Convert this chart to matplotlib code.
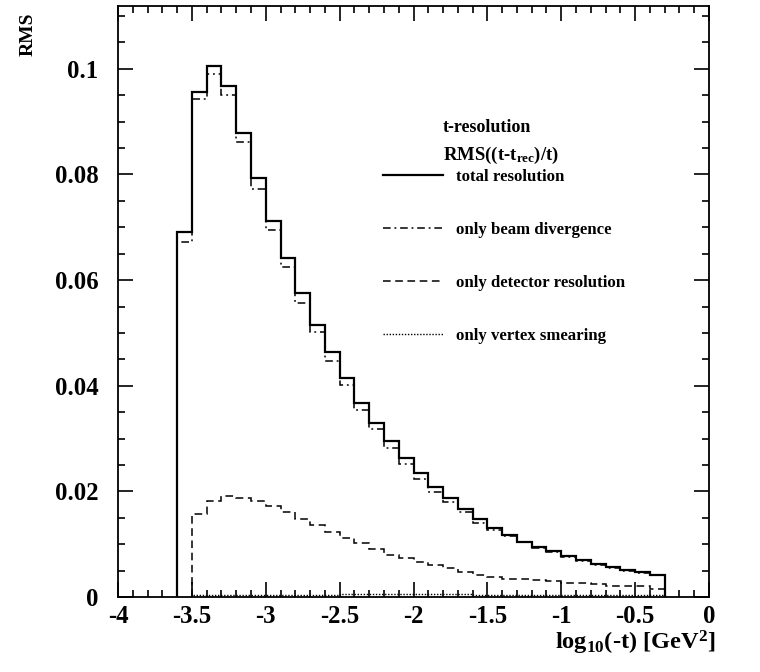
import numpy as np
import matplotlib
matplotlib.use("Agg")
import matplotlib.pyplot as plt
from matplotlib.lines import Line2D
from matplotlib.ticker import MultipleLocator

plt.rcParams['font.family'] = ['Liberation Serif', 'DejaVu Serif']
plt.rcParams['font.weight'] = 'bold'
plt.rcParams['mathtext.fontset'] = 'custom'
plt.rcParams['mathtext.rm'] = 'Liberation Serif:bold'
plt.rcParams['mathtext.it'] = 'Liberation Serif:bold'
plt.rcParams['mathtext.bf'] = 'Liberation Serif:bold'

# bin edges of log10(-t)
edges = [-3.6, -3.5, -3.4, -3.3, -3.2, -3.1, -3.0, -2.9, -2.8, -2.7, -2.6,
         -2.5, -2.4, -2.3, -2.2, -2.1, -2.0, -1.9, -1.8, -1.7, -1.6, -1.5,
         -1.4, -1.3, -1.2, -1.1, -1.0, -0.9, -0.8, -0.7, -0.6, -0.5, -0.4, -0.3]

total = [0.0691, 0.0957, 0.1006, 0.0967, 0.0879, 0.0794, 0.0712, 0.0642,
         0.0576, 0.0515, 0.0463, 0.0414, 0.0367, 0.0330, 0.0295, 0.0263,
         0.0235, 0.0209, 0.0187, 0.0166, 0.0147, 0.0131, 0.0117, 0.0105,
         0.0095, 0.0087, 0.0078, 0.0071, 0.0062, 0.0056, 0.0051, 0.0047, 0.0042]

beam = [0.0673, 0.0943, 0.0991, 0.0950, 0.0862, 0.0773, 0.0694, 0.0625,
        0.0557, 0.0501, 0.0446, 0.0401, 0.0354, 0.0318, 0.0282, 0.0252,
        0.0224, 0.0199, 0.0179, 0.0160, 0.0141, 0.0127, 0.0115, 0.0104,
        0.0093, 0.0085, 0.0076, 0.0068, 0.0061, 0.0055, 0.0050, 0.0046, 0.0041]

# detector and vertex start at the second bin (-3.5)
detector = [0.0157, 0.0181, 0.0191, 0.0188, 0.0181, 0.0173, 0.0160, 0.0147,
            0.0136, 0.0123, 0.0111, 0.0102, 0.0090, 0.0079, 0.0074, 0.0066,
            0.0060, 0.0054, 0.0048, 0.0042, 0.0038, 0.0035, 0.0034, 0.0032,
            0.0030, 0.0027, 0.0026, 0.0025, 0.0021, 0.0020, 0.0020, 0.0015]

vertex = [0.0003, 0.0003, 0.0004, 0.0004, 0.0004, 0.0004, 0.0004, 0.0004,
          0.0004, 0.0004, 0.0005, 0.0005, 0.0005, 0.0005, 0.0005, 0.0005,
          0.0005, 0.0005, 0.0005, 0.0004, 0.0004, 0.0004, 0.0003, 0.0003,
          0.0003, 0.0003, 0.0003, 0.0003, 0.0003, 0.0003, 0.0003, 0.0003]

labels = ["total resolution", "only beam divergence",
          "only detector resolution", "only vertex smearing"]

fig = plt.figure(figsize=(7.6, 6.72), dpi=100)
ax = fig.add_axes([118/760, 1 - 597/672, 591/760, 591/672])

ls_solid = '-'
ls_dashdot = (0, (5, 2.5, 1.2, 2.5))
ls_dash = (0, (5, 3))
ls_dot = (0, (1, 1.2))

ax.stairs(total, edges, baseline=0, color='black', lw=1.6, linestyle=ls_solid)
ax.stairs(beam, edges, baseline=0, color='black', lw=1.1, linestyle=ls_dashdot)
ax.stairs(detector, edges[1:], baseline=0, color='black', lw=1.1, linestyle=ls_dash)
ax.stairs(vertex, edges[1:], baseline=0, color='black', lw=1.0, linestyle=ls_dot)

ax.set_xlim(-4, 0)
ax.set_ylim(0, 0.1119)

ax.xaxis.set_minor_locator(MultipleLocator(0.1))
ax.yaxis.set_minor_locator(MultipleLocator(0.005))
ax.set_xticks([-4, -3.5, -3, -2.5, -2, -1.5, -1, -0.5, 0])
ax.set_xticklabels(['-4', '-3.5', '-3', '-2.5', '-2', '-1.5', '-1', '-0.5', '0'])
ax.set_yticks([0, 0.02, 0.04, 0.06, 0.08, 0.1])
ax.set_yticklabels(['0', '0.02', '0.04', '0.06', '0.08', '0.1'])

ax.tick_params(which='both', direction='in', top=True, right=True, width=1.2,
               labelsize=17.8)
ax.tick_params(which='major', length=10.5)
ax.tick_params(which='minor', length=5)
ax.tick_params(axis='x', which='major', pad=6)
ax.tick_params(axis='y', which='major', pad=14)
for sp in ax.spines.values():
    sp.set_linewidth(1.3)

fig.text(28/760, 1 - 13/672, 'RMS', rotation=90, ha='center', va='top',
         fontsize=14, fontweight='bold')
fig.text(716/760, 1 - 643/672, r'log$_{10}$(-t) [GeV$^{2}$]', ha='right',
         va='center', fontsize=17.6, fontweight='bold')

ax.text((443-118)/591, (597-128)/591, 't-resolution', transform=ax.transAxes,
        ha='left', va='center', fontsize=13, fontweight='bold')
ax.text((443-118)/591, (597-155)/591, r'RMS((t-t$_{rec}$)/t)', transform=ax.transAxes,
        ha='left', va='center', fontsize=13.5, fontweight='bold')

handles = [Line2D([], [], color='black', lw=1.6, linestyle=ls_solid),
           Line2D([], [], color='black', lw=1.1, linestyle=ls_dashdot),
           Line2D([], [], color='black', lw=1.1, linestyle=ls_dash),
           Line2D([], [], color='black', lw=1.0, linestyle=ls_dot)]
ax.legend(handles, labels, loc='upper left',
          bbox_to_anchor=((383-118)/591, (597-169)/591), frameon=False,
          prop={'family': 'Liberation Serif', 'weight': 'bold', 'size': 12.1},
          handlelength=3.55, handletextpad=0.8, labelspacing=2.2,
          borderpad=0, borderaxespad=0)

fig.savefig('out.png', dpi=100)
